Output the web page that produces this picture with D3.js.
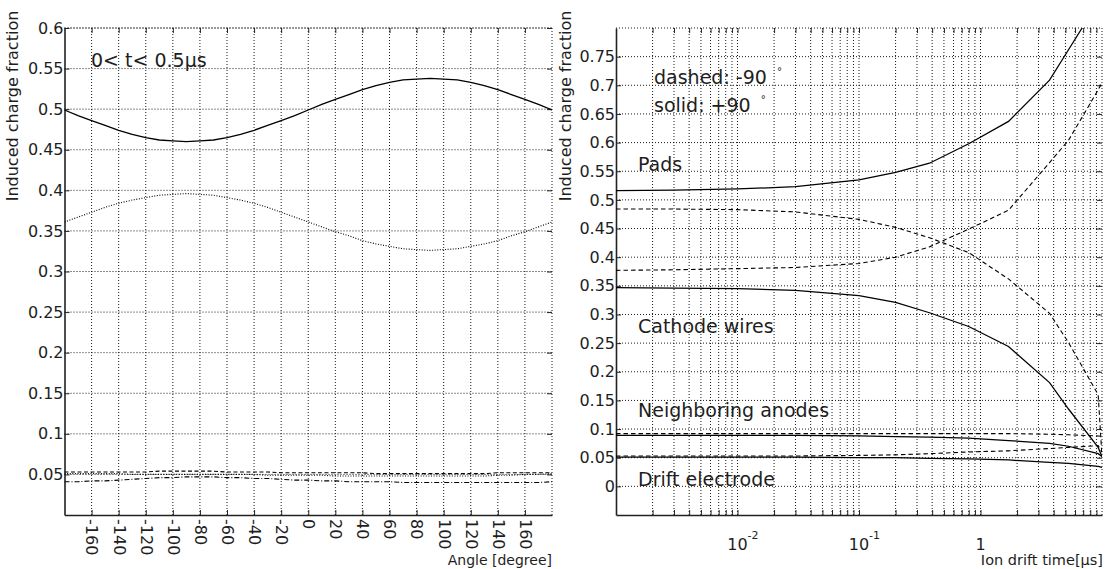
<!DOCTYPE html>
<html><head><meta charset="utf-8">
<script src="https://cdn.jsdelivr.net/npm/d3@7"></script>
<style>
body{margin:0;background:#fff}
text{font-family:"DejaVu Sans",sans-serif;fill:#1e1e1e}
</style>
</head><body>
<svg id="c" width="1111" height="569"></svg>
<script>
// ---------- Left panel data (0 < t < 0.5 us) ----------
const angles = [-180,-170,-160,-150,-140,-130,-120,-110,-100,-90,-80,-70,-60,-50,-40,-30,-20,-10,0,10,20,30,40,50,60,70,80,90,100,110,120,130,140,150,160,170,180];
const padsByAngle    = [.499,.492,.486,.480,.474,.469,.465,.462,.461,.460,.461,.462,.465,.469,.474,.480,.486,.492,.499,.506,.512,.518,.524,.529,.533,.536,.537,.538,.537,.536,.533,.529,.524,.518,.512,.506,.499];
const cathodeByAngle = [.361,.367,.373,.379,.384,.388,.391,.394,.395,.396,.395,.394,.391,.388,.384,.379,.373,.367,.361,.355,.349,.344,.338,.334,.331,.328,.327,.326,.327,.328,.331,.334,.338,.344,.349,.355,.361];
const neighborAByAngle = [.053,.053,.053,.053,.053,.053,.053,.054,.054,.054,.054,.054,.053,.053,.053,.053,.052,.052,.052,.052,.052,.052,.052,.051,.051,.051,.051,.051,.051,.051,.051,.051,.052,.052,.052,.052,.052];
const driftByAngle     = [.051,.051,.051,.051,.051,.050,.050,.050,.050,.050,.050,.050,.050,.050,.050,.049,.049,.049,.049,.049,.048,.048,.048,.048,.048,.048,.048,.048,.048,.048,.048,.048,.049,.049,.050,.050,.051];
const neighborBByAngle = [.041,.041,.042,.042,.043,.044,.045,.046,.046,.047,.047,.047,.046,.046,.045,.045,.044,.043,.043,.042,.042,.041,.041,.041,.041,.040,.040,.040,.040,.040,.040,.040,.040,.040,.040,.040,.041];
const angleTicks = [-160,-140,-120,-100,-80,-60,-40,-20,0,20,40,60,80,100,120,140,160];
const leftYTicks = [0.05,0.1,0.15,0.2,0.25,0.3,0.35,0.4,0.45,0.5,0.55,0.6];

// ---------- Right panel data (vs ion drift time) ----------
const times        = [0.001,0.003,0.01,0.03,0.1,0.2,0.38,0.8,1.7,3.7,5.3,9.3,10];
const padsPlus     = [0.516,0.517,0.519,0.523,0.535,0.548,0.564,0.598,0.637,0.709,0.762,0.845,0.857];
const padsMinus    = [0.377,0.378,0.380,0.382,0.389,0.400,0.418,0.449,0.482,0.565,0.604,0.692,0.705];
const cathodePlus  = [0.347,0.346,0.345,0.342,0.333,0.321,0.303,0.279,0.244,0.181,0.135,0.068,0.052];
const cathodeMinus = [0.484,0.484,0.483,0.479,0.466,0.452,0.434,0.408,0.362,0.302,0.251,0.160,0.052];
const neighborPlus = [0.089,0.089,0.089,0.089,0.088,0.087,0.086,0.084,0.080,0.075,0.070,0.057,0.052];
const neighborMinus= [0.092,0.092,0.092,0.092,0.092,0.092,0.092,0.092,0.092,0.091,0.090,0.088,0.087];
const driftPlus    = [0.051,0.051,0.051,0.051,0.050,0.050,0.049,0.048,0.046,0.042,0.040,0.035,0.033];
const driftMinus   = [0.053,0.053,0.053,0.053,0.054,0.055,0.057,0.060,0.062,0.066,0.068,0.071,0.060];
const rightYTicks  = [0,0.05,0.1,0.15,0.2,0.25,0.3,0.35,0.4,0.45,0.5,0.55,0.6,0.65,0.7,0.75];
const timeLabelTicks = [0.01,0.1,1];

// ---------- Layout ----------
const svg = d3.select("#c");
const L = {x0:64.5, x1:552, y0:28, y1:515};
const R = {x0:616, x1:1102, y0:28, y1:515};
const xA = d3.scaleLinear().domain([-180,180]).range([L.x0,L.x1]);
const yA = d3.scaleLinear().domain([0,0.6]).range([L.y1,L.y0]);
const xT = d3.scaleLog().domain([1e-3,10]).range([R.x0,R.x1]);
const yT = d3.scaleLinear().domain([-0.05,0.8]).range([R.y1,R.y0]);

const defs = svg.append("defs");
defs.append("clipPath").attr("id","clipL").append("rect").attr("x",L.x0).attr("y",L.y0).attr("width",L.x1-L.x0).attr("height",L.y1-L.y0);
defs.append("clipPath").attr("id","clipR").append("rect").attr("x",R.x0).attr("y",R.y0).attr("width",R.x1-R.x0).attr("height",R.y1-R.y0);

const GRID = "1,2";
function grid(box, xs, ys, sx, sy){
  const g = svg.append("g").attr("stroke","#000").attr("stroke-width",0.9).attr("stroke-dasharray",GRID).attr("fill","none");
  xs.forEach(v=>g.append("line").attr("x1",sx(v)).attr("x2",sx(v)).attr("y1",box.y0).attr("y2",box.y1));
  ys.forEach(v=>g.append("line").attr("y1",sy(v)).attr("y2",sy(v)).attr("x1",box.x0).attr("x2",box.x1));
  g.append("line").attr("x1",box.x0).attr("x2",box.x1).attr("y1",box.y0).attr("y2",box.y0);
  g.append("line").attr("x1",box.x1).attr("x2",box.x1).attr("y1",box.y0).attr("y2",box.y1);
}

function styleAxis(g){
  g.selectAll(".tick line").attr("stroke","#222").attr("stroke-width",1);
  g.select(".domain").attr("stroke","#222").attr("stroke-width",1.6);
  g.selectAll("text").attr("font-family","DejaVu Sans").attr("font-size",16).attr("fill","#1e1e1e");
}

// ---------- LEFT PANEL ----------
grid(L, angleTicks, leftYTicks, xA, yA);

const fmt = d => d3.format("~g")(d);
const axLy = svg.append("g").attr("transform",`translate(${L.x0},0)`)
  .call(d3.axisLeft(yA).tickValues(leftYTicks).tickSize(-5).tickSizeOuter(0).tickPadding(1).tickFormat(fmt));
styleAxis(axLy);
const axLx = svg.append("g").attr("transform",`translate(0,${L.y1})`)
  .call(d3.axisBottom(xA).tickValues(angleTicks).tickSize(-5).tickSizeOuter(0).tickPadding(3).tickFormat(d=>String(d)));
styleAxis(axLx);
axLx.selectAll("text").attr("transform","rotate(90)").attr("text-anchor","start").attr("x",4).attr("y",0).attr("dy","0.35em");
const axLt = svg.append("g").attr("transform",`translate(0,${L.y0})`).call(d3.axisTop(xA).tickValues(angleTicks).tickSize(-5).tickFormat(""));
axLt.select(".domain").remove(); axLt.selectAll("line").attr("stroke","#222");
const axLr = svg.append("g").attr("transform",`translate(${L.x1},0)`).call(d3.axisRight(yA).tickValues(leftYTicks).tickSize(-5).tickFormat(""));
axLr.select(".domain").remove(); axLr.selectAll("line").attr("stroke","#222");

const lineA = d3.line().x((d,i)=>xA(angles[i])).y(d=>yA(d));
const gL = svg.append("g").attr("clip-path","url(#clipL)").attr("fill","none").attr("stroke","#000");
gL.append("path").attr("d",lineA(padsByAngle)).attr("stroke-width",1.3);
gL.append("path").attr("d",lineA(cathodeByAngle)).attr("stroke-width",1.1).attr("stroke-dasharray","1,1.6");
gL.append("path").attr("d",lineA(neighborAByAngle)).attr("stroke-width",1.1).attr("stroke-dasharray","4,2.5");
gL.append("path").attr("d",lineA(driftByAngle)).attr("stroke-width",1.1).attr("stroke-dasharray","1,1.6");
gL.append("path").attr("d",lineA(neighborBByAngle)).attr("stroke-width",1.1).attr("stroke-dasharray","5,2,1,2");

svg.append("text").attr("x",91).attr("y",67).attr("font-size",19).text("0< t< 0.5µs");
svg.append("text").attr("x",L.x1).attr("y",565).attr("font-size",14).attr("text-anchor","end").text("Angle [degree]");
svg.append("text").attr("transform",`translate(18,106) rotate(-90)`).attr("font-size",16).attr("text-anchor","middle").text("Induced charge fraction");

// ---------- RIGHT PANEL ----------
const minorTimes = xT.ticks().filter(v => v > 1.0001e-3 && v < 9.999);
grid(R, minorTimes, rightYTicks, xT, yT);

const axRy = svg.append("g").attr("transform",`translate(${R.x0},0)`)
  .call(d3.axisLeft(yT).tickValues(rightYTicks).tickSize(-5).tickSizeOuter(0).tickPadding(1).tickFormat(fmt));
styleAxis(axRy);
const axRx = svg.append("g").attr("transform",`translate(0,${R.y1})`)
  .call(d3.axisBottom(xT).tickValues(minorTimes).tickSize(-5).tickSizeOuter(0).tickFormat(""));
styleAxis(axRx);
const axRt = svg.append("g").attr("transform",`translate(0,${R.y0})`).call(d3.axisTop(xT).tickValues(minorTimes).tickSize(-5).tickFormat(""));
axRt.select(".domain").remove(); axRt.selectAll("line").attr("stroke","#222");
const axRr = svg.append("g").attr("transform",`translate(${R.x1},0)`).call(d3.axisRight(yT).tickValues(rightYTicks).tickSize(-5).tickFormat(""));
axRr.select(".domain").remove(); axRr.selectAll("line").attr("stroke","#222");

timeLabelTicks.forEach(v=>{
  const x = xT(v);
  const e = Math.round(Math.log10(v));
  if (e === 0) {
    svg.append("text").attr("x",x).attr("y",550).attr("font-size",16).attr("text-anchor","middle").text("1");
  } else {
    svg.append("text").attr("x",x).attr("y",550).attr("font-size",16).attr("text-anchor","middle").text("10");
    svg.append("text").attr("x",x+10).attr("y",539).attr("font-size",11).text(String(e));
  }
});

const lineT = d3.line().x((d,i)=>xT(times[i])).y(d=>yT(d));
const gR = svg.append("g").attr("clip-path","url(#clipR)").attr("fill","none").attr("stroke","#000");
const solidW = 1.25, dashW = 1.1, DASH = "4.5,3";
[padsPlus,cathodePlus,neighborPlus,driftPlus].forEach(s=>gR.append("path").attr("d",lineT(s)).attr("stroke-width",solidW));
[padsMinus,cathodeMinus,neighborMinus,driftMinus].forEach(s=>gR.append("path").attr("d",lineT(s)).attr("stroke-width",dashW).attr("stroke-dasharray",DASH));

const ann = [
  {t:"Pads", x:638, y:171},
  {t:"Cathode wires", x:638, y:333},
  {t:"Neighboring anodes", x:638, y:417},
  {t:"Drift electrode", x:638, y:486}
];
ann.forEach(a=>svg.append("text").attr("x",a.x).attr("y",a.y).attr("font-size",19).text(a.t));
const t1 = svg.append("text").attr("x",654).attr("y",84).attr("font-size",19).text("dashed: -90");
t1.append("tspan").attr("dx",10).attr("dy",-9).attr("font-size",10).text("°");
const t2 = svg.append("text").attr("x",654).attr("y",112).attr("font-size",19).text("solid: +90");
t2.append("tspan").attr("dx",10).attr("dy",-9).attr("font-size",10).text("°");

svg.append("text").attr("transform",`translate(571,106) rotate(-90)`).attr("font-size",16).attr("text-anchor","middle").text("Induced charge fraction");
svg.append("text").attr("x",1103).attr("y",565).attr("font-size",14.5).attr("text-anchor","end").text("Ion drift time[µs]");
</script>
</body></html>
